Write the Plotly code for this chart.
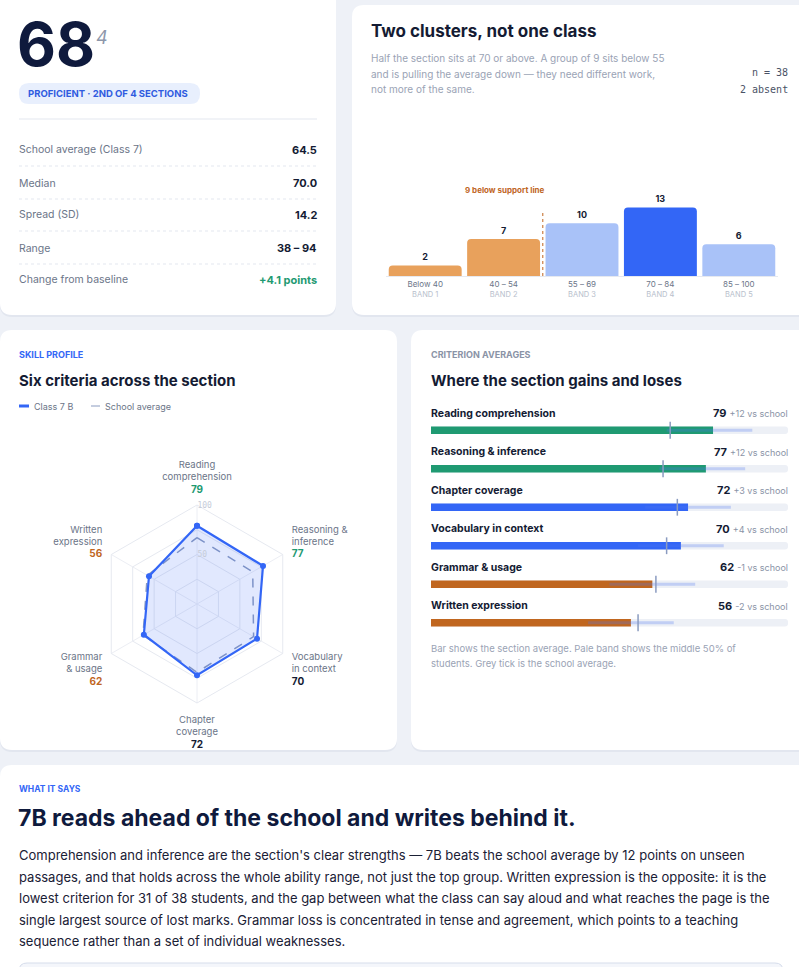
import plotly.graph_objects as go

W, H = 799, 967
def px(x): return x / W
def py(y): return 1 - y / H

# ---------- data ----------
bands = ["Below 40", "40 – 54", "55 – 69", "70 – 84", "85 – 100"]
band_sub = ["BAND 1", "BAND 2", "BAND 3", "BAND 4", "BAND 5"]
band_counts = [2, 7, 10, 13, 6]
band_colors = ["#e8a15c", "#e8a15c", "#a9c2f8", "#3366f6", "#a9c2f8"]

criteria = ["Reading comprehension", "Reasoning & inference", "Chapter coverage",
            "Vocabulary in context", "Grammar & usage", "Written expression"]
class_avg = [79, 77, 72, 70, 62, 56]
school_avg = [67, 65, 69, 66, 63, 58]
diff_text = ["+12", "+12", "+3", "+4", "-1", "-2"]
iqr_lo = [66, 64, 60, 58, 50, 44]
iqr_hi = [90, 88, 84, 82, 74, 68]
crit_colors = ["#1f9a72", "#1f9a72", "#3366f6", "#3366f6", "#c0661f", "#c0661f"]

radar_order = ["Reading comprehension", "Reasoning & inference", "Vocabulary in context",
               "Chapter coverage", "Grammar & usage", "Written expression"]
radar_labels = ["Reading<br>comprehension", "Reasoning &<br>inference", "Vocabulary<br>in context",
                "Chapter<br>coverage", "Grammar<br>& usage", "Written<br>expression"]

stat_labels = ["School average (Class 7)", "Median", "Spread (SD)", "Range", "Change from baseline"]
stat_values = ["64.5", "70.0", "14.2", "38 – 94", "+4.1 points"]

INK = "#141b33"
GREY = "#6b7588"
FONT = "Inter"

fig = go.Figure()

# ---------- histogram ----------
fig.add_trace(go.Bar(
    x=bands, y=band_counts, marker=dict(color=band_colors, cornerradius=4, line_width=0),
    text=[f"<b>{c}</b>" for c in band_counts], textposition="outside",
    textfont=dict(size=9, color=INK), cliponaxis=False, xaxis="x", yaxis="y", showlegend=False))

# ---------- radar ----------
cmap = dict(zip(criteria, class_avg))
smap = dict(zip(criteria, school_avg))
r_class = [cmap[c] for c in radar_order]
r_school = [smap[c] for c in radar_order]
val_col = {"Reading comprehension": "#1f9a72", "Reasoning & inference": "#1f9a72",
           "Vocabulary in context": INK, "Chapter coverage": INK,
           "Grammar & usage": "#c0661f", "Written expression": "#c0661f"}
ticktext = [f"{l}<br><b><span style='color:{val_col[c]};font-size:10px'>{cmap[c]}</span></b>"
            for l, c in zip(radar_labels, radar_order)]
fig.add_trace(go.Scatterpolar(r=r_school + r_school[:1], theta=radar_order + radar_order[:1],
                              mode="lines", line=dict(color="#8a9bc0", width=1.5, dash="dash"),
                              showlegend=False))
fig.add_trace(go.Scatterpolar(r=r_class + r_class[:1], theta=radar_order + radar_order[:1],
                              mode="lines+markers", fill="toself",
                              fillcolor="rgba(51,102,246,0.15)",
                              line=dict(color="#3366f6", width=2.2),
                              marker=dict(size=6, color="#3366f6"), showlegend=False))

# ---------- criterion bars ----------
rows = list(range(len(criteria)))
fig.add_trace(go.Bar(y=rows, x=[100] * 6, orientation="h", width=0.2,
                     marker=dict(color="#edf0f6", cornerradius=3, line_width=0), xaxis="x3", yaxis="y3",
                     showlegend=False))
fig.add_trace(go.Bar(y=rows, x=class_avg, orientation="h", width=0.2,
                     marker=dict(color=crit_colors, cornerradius=3, line_width=0), xaxis="x3", yaxis="y3",
                     showlegend=False))
fig.add_trace(go.Bar(y=rows, x=[h - l for l, h in zip(iqr_lo, iqr_hi)], base=iqr_lo,
                     orientation="h", width=0.08,
                     marker=dict(color="rgba(80,120,240,0.28)", line_width=0), xaxis="x3", yaxis="y3",
                     showlegend=False))
fig.add_trace(go.Scatter(y=rows, x=school_avg, mode="markers",
                         marker=dict(symbol="line-ns", size=12, line=dict(color="#8a9bc0", width=1.5)),
                         xaxis="x3", yaxis="y3", showlegend=False))

shapes = []
def rrect(x0, y0, x1, y1, r=10, fill="white", line="rgba(0,0,0,0)", lw=0):
    rx, ry = r / W, r / H
    X0, X1 = px(x0), px(x1)
    Y0, Y1 = py(y1), py(y0)
    path = (f"M{X0+rx},{Y0} L{X1-rx},{Y0} Q{X1},{Y0} {X1},{Y0+ry} L{X1},{Y1-ry} Q{X1},{Y1} {X1-rx},{Y1} "
            f"L{X0+rx},{Y1} Q{X0},{Y1} {X0},{Y1-ry} L{X0},{Y0+ry} Q{X0},{Y0} {X0+rx},{Y0} Z")
    shapes.append(dict(type="path", path=path, xref="paper", yref="paper", fillcolor=fill,
                       line=dict(color=line, width=lw), layer="below"))

for (a, b, c, d) in [(0, -20, 336, 315), (352, 5, 820, 315), (0, 330, 397, 750),
                     (411, 330, 820, 750), (0, 765, 820, 1000)]:
    rrect(a, b + 2, c, d + 2, 12, fill="#e2e6ef")
    rrect(a, b, c, d, 12)
rrect(19, 963, 783, 1000, 8, fill="#f4f6fb", line="#d6ddeb", lw=1)
rrect(19, 83, 200, 104, 10, fill="#e8effd")

def hline(x0, x1, y, color="#e3e7ef", dash=None):
    shapes.append(dict(type="line", xref="paper", yref="paper", x0=px(x0), x1=px(x1), y0=py(y), y1=py(y),
                       line=dict(color=color, width=1, dash=dash)))
hline(19, 317, 119)
for y in [166, 199, 231, 264]:
    hline(19, 317, y, dash="dot")
shapes.append(dict(type="line", xref="paper", yref="paper", x0=px(19), x1=px(29), y0=py(406), y1=py(406),
                   line=dict(color="#3366f6", width=3)))
shapes.append(dict(type="line", xref="paper", yref="paper", x0=px(91), x1=px(100), y0=py(406), y1=py(406),
                   line=dict(color="#8a9bc0", width=1, dash="dash")))
# support line between band 2 and band 3
shapes.append(dict(type="line", xref="x", yref="y", x0=1.5, x1=1.5, y0=0, y1=12.3,
                   line=dict(color="#c0661f", width=1, dash="dot")))

ann = []
def T(x, y, text, size=11, color=INK, anchor="left", bold=False, family=FONT):
    if bold:
        text = f"<b>{text}</b>"
    dx = -2 if anchor == "left" else (2 if anchor == "right" else 0)
    ann.append(dict(x=px(x + dx), y=py(y), xref="paper", yref="paper", text=text, showarrow=False,
                    xanchor=anchor, yanchor="middle", font=dict(size=size, color=color, family=family),
                    align=anchor))

# card 1
T(17, 44, "68", 60, "#0f1a3d", bold=True)
T(96, 37, "<i>4</i>", 18, "#8d97ab")
T(28, 93, "PROFICIENT · 2ND OF 4 SECTIONS", 9.5, "#2f5be0", bold=True)
for i, (l, v) in enumerate(zip(stat_labels, stat_values)):
    y = [150, 183, 215, 248, 280][i]
    T(19, y, l, 10.5, GREY)
    T(317, y, v, 11, "#1f9a72" if i == 4 else INK, anchor="right", bold=True)

# card 2
T(371, 31, "Two clusters, not one class", 17, INK, bold=True)
for y, s in zip([58, 74, 89], ["Half the section sits at 70 or above. A group of 9 sits below 55",
                               "and is pulling the average down — they need different work,",
                               "not more of the same."]):
    T(371, y, s, 10, "#9aa3b5")
T(788, 73, "n = 38", 10, "#4a5266", anchor="right", family="DejaVu Sans Mono")
T(788, 89, "2 absent", 10, "#4a5266", anchor="right", family="DejaVu Sans Mono")
T(505, 190, "9 below support line", 8, "#c0661f", anchor="center", bold=True)

# card 3
T(19, 354, "SKILL PROFILE", 9, "#3366f6", bold=True)
T(19, 380, "Six criteria across the section", 15, INK, bold=True)
T(34, 406, "Class 7 B", 9, GREY)
T(105, 406, "School average", 9, GREY)

# card 4
T(431, 354, "CRITERION AVERAGES", 9, "#8a93a6", bold=True)
T(431, 380, "Where the section gains and loses", 15, INK, bold=True)
for i, c in enumerate(criteria):
    ann.append(dict(x=0, y=i, xref="x3", yref="y3", yshift=17, xshift=-2, text=f"<b>{c}</b>", showarrow=False,
                    xanchor="left", font=dict(size=10.5, color=INK, family=FONT)))
    ann.append(dict(x=100, y=i, xref="x3", yref="y3", yshift=17, xshift=2,
                    text=f"<b>{class_avg[i]}</b> <span style='color:#8a93a6;font-size:9px'>{diff_text[i]} vs school</span>",
                    showarrow=False, xanchor="right", font=dict(size=11, color=INK, family=FONT)))
T(431, 648, "Bar shows the section average. Pale band shows the middle 50% of", 9.5, "#9aa3b5")
T(431, 663, "students. Grey tick is the school average.", 9.5, "#9aa3b5")

# card 5
T(19, 789, "WHAT IT SAYS", 8.5, "#3366f6", bold=True)
T(18, 818, "7B reads ahead of the school and writes behind it.", 23, "#0f1a3d", bold=True)
para = ["Comprehension and inference are the section's clear strengths — 7B beats the school average by 12 points on unseen",
        "passages, and that holds across the whole ability range, not just the top group. Written expression is the opposite: it is the",
        "lowest criterion for 31 of 38 students, and the gap between what the class can say aloud and what reaches the page is the",
        "single largest source of lost marks. Grammar loss is concentrated in tense and agreement, which points to a teaching",
        "sequence rather than a set of individual weaknesses."]
for i, s in enumerate(para):
    T(19, 855 + 21.5 * i, s, 13, "#1a2035")

tick_text = [f"{b}<br><span style='font-size:7.5px;color:#b8c0cc'>{s}</span>" for b, s in zip(bands, band_sub)]

fig.update_layout(
    width=W, height=H, margin=dict(l=0, r=0, t=0, b=0),
    paper_bgcolor="#eef1f7", plot_bgcolor="rgba(0,0,0,0)",
    font=dict(family=FONT, color=GREY), shapes=shapes, annotations=ann, barmode="overlay",
    bargap=0.07,
    xaxis=dict(domain=[px(386), px(778)], tickvals=bands, ticktext=tick_text, tickfont=dict(size=8, color=GREY),
               showgrid=False, zeroline=False, showline=True, linecolor="#e6e9f0", ticks="", anchor="y",
               range=[-0.5, 4.5]),
    yaxis=dict(domain=[py(276), py(160)], range=[0, 22], visible=False),
    xaxis3=dict(domain=[px(431), px(788)], range=[0, 100], visible=False, anchor="y3"),
    yaxis3=dict(domain=[py(642), py(411)], range=[5.5, -0.5], visible=False, anchor="x3"),
    polar=dict(
        domain=dict(x=[px(98), px(296)], y=[py(703), py(505)]),
        bgcolor="rgba(0,0,0,0)", gridshape="linear",
        radialaxis=dict(range=[0, 100], tickvals=[25, 50, 75, 100], ticktext=["", "50", "", "100"],
                        tickfont=dict(size=8, color="#c5ccd9", family="DejaVu Sans Mono"),
                        showline=False, angle=90, tickangle=90, gridcolor="#e6e9f0", ticks=""),
        angularaxis=dict(rotation=90, direction="clockwise", tickmode="array", tickvals=radar_order,
                         ticktext=ticktext, tickfont=dict(size=9.5, color=GREY), gridcolor="#eceef4",
                         linecolor="#e6e9f0", ticks="outside", ticklen=8, tickcolor="rgba(0,0,0,0)"),
    ),
)
fig.write_html("out.html", config={"displayModeBar": False},
               post_script="document.body.style.margin='0';document.body.style.overflow='hidden';")
